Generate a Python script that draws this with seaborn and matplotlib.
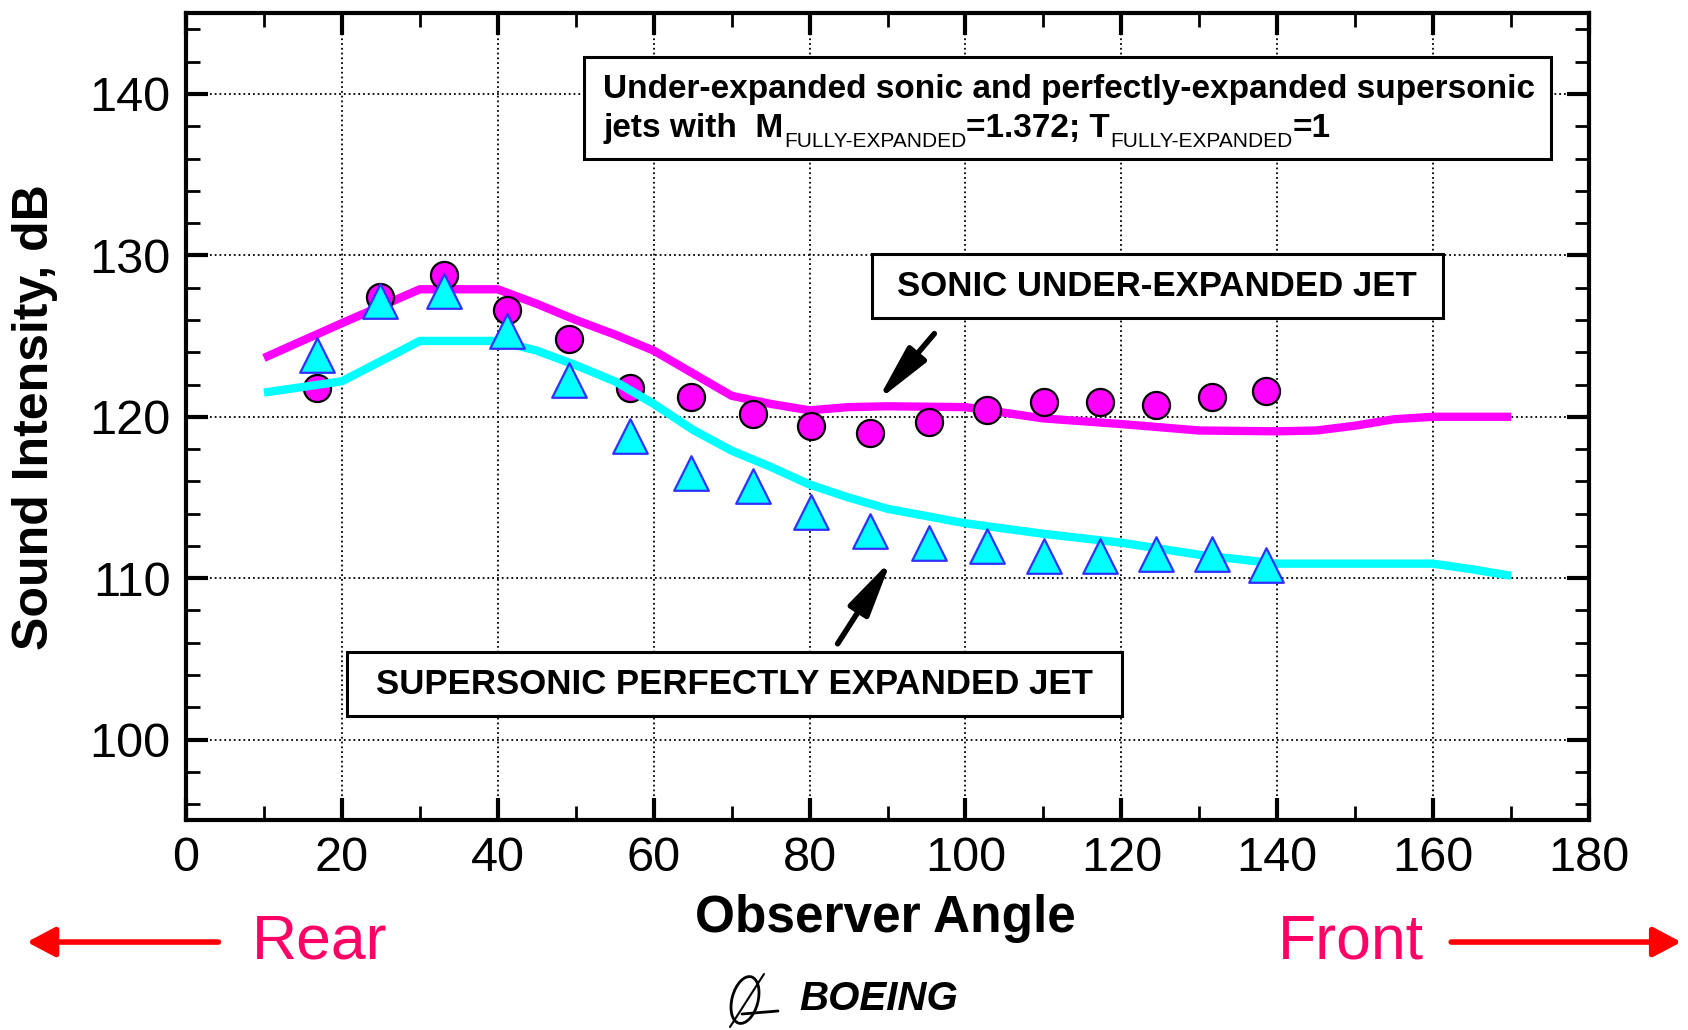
import matplotlib
matplotlib.use("Agg")
import matplotlib.pyplot as plt
import seaborn as sns
from matplotlib.patches import Rectangle, FancyArrowPatch, Ellipse
from matplotlib.lines import Line2D

angles = [16.8, 24.9, 33.1, 41.2, 49.1, 56.9, 64.8, 72.7, 80.2, 87.8,
          95.3, 102.8, 110.1, 117.3, 124.4, 131.6, 138.6]
sonic_db = [121.8, 127.4, 128.8, 126.6, 124.8, 121.8, 121.2, 120.2, 119.4, 119.0,
            119.7, 120.4, 120.9, 120.9, 120.7, 121.2, 121.6]
supersonic_db = [123.8, 127.2, 127.8, 125.3, 122.3, 118.8, 116.5, 115.7, 114.1, 112.9,
                 112.2, 112.0, 111.4, 111.4, 111.5, 111.5, 110.8]

# prediction curves
sonic_curve_angle = [10, 20, 30, 40, 45, 50, 55, 60, 65, 70, 75, 80, 85, 90,
                     100, 110, 120, 130, 140, 145, 150, 155, 160, 170]
sonic_curve_db = [123.65, 125.8, 127.9, 127.9, 127.0, 126.0, 125.1, 124.1, 122.7, 121.3,
                  120.8, 120.4, 120.6, 120.65, 120.6, 119.9, 119.55, 119.15, 119.1,
                  119.15, 119.45, 119.85, 120.0, 120.0]
super_curve_angle = [10, 20, 30, 40, 45, 50, 55, 60, 65, 70, 75, 80, 85, 90,
                     100, 110, 120, 130, 140, 150, 160, 165, 170]
super_curve_db = [121.5, 122.2, 124.7, 124.7, 124.1, 123.2, 122.2, 120.8, 119.2, 117.9,
                  116.9, 115.8, 115.0, 114.3, 113.4, 112.75, 112.2, 111.45, 110.9,
                  110.9, 110.9, 110.55, 110.15]

x_ticks = [0, 20, 40, 60, 80, 100, 120, 140, 160, 180]
y_ticks = [100, 110, 120, 130, 140]

sns.set_style("ticks")
plt.rcParams['font.family'] = ['Liberation Sans', 'DejaVu Sans']
plt.rcParams['text.color'] = 'black'

fig = plt.figure(figsize=(16.88, 10.30), dpi=100)
ax = fig.add_axes([0.1102, 0.2036, 0.8312, 0.7835])

# curves and symbols
sns.lineplot(x=sonic_curve_angle, y=sonic_curve_db, color='#FF00FF', lw=6, ax=ax,
             zorder=2, solid_capstyle='butt')
sns.scatterplot(x=angles, y=sonic_db, marker='o', s=380, color='#FF00FF',
                edgecolor='black', linewidth=1.6, ax=ax, zorder=3)
sns.lineplot(x=super_curve_angle, y=super_curve_db, color='#00FFFF', lw=6, ax=ax,
             zorder=4, solid_capstyle='butt')
sns.scatterplot(x=angles, y=supersonic_db, marker='^', s=620, color='#00FFFF',
                edgecolor='#3030FF', linewidth=1.6, ax=ax, zorder=5)

ax.set_xlim(0, 180)
ax.set_ylim(95, 145)
ax.set_xticks(x_ticks)
ax.set_xticks(range(10, 180, 20), minor=True)
ax.set_yticks(y_ticks)
ax.set_yticks([v for v in range(96, 145, 2) if v % 10], minor=True)
ax.grid(True, which='major', color='black', linestyle=':', lw=1.3)
ax.set_axisbelow(True)
for s in ax.spines.values():
    s.set_linewidth(3)
    s.set_color('black')
ax.tick_params(which='both', direction='in', top=True, right=True, colors='black')
ax.tick_params(which='major', length=16, width=3, labelsize=35)
ax.tick_params(which='minor', length=10, width=2)
ax.tick_params(axis='x', which='major', pad=11)
ax.tick_params(axis='y', which='major', pad=11)

# info box
ax.add_patch(Rectangle((51.1, 136.0), 124.0, 6.3, facecolor='white', edgecolor='black',
                       lw=2.2, zorder=6))
ax.text(53.5, 139.73, 'Under-expanded sonic and perfectly-expanded supersonic',
        fontsize=24, fontweight='bold', va='baseline', zorder=7)
t1 = ax.text(53.5, 137.34, 'jets with  M', fontsize=24, fontweight='bold',
             va='baseline', zorder=7)
sub1 = ax.annotate('FULLY-EXPANDED', xy=(1, 0), xycoords=t1, xytext=(0.5, -5),
                   textcoords='offset points', fontsize=15, va='bottom', ha='left', zorder=7)
t2 = ax.annotate('=1.372; T', xy=(1, 0), xycoords=(sub1, t1), fontsize=24,
                 fontweight='bold', va='bottom', ha='left', zorder=7)
sub2 = ax.annotate('FULLY-EXPANDED', xy=(1, 0), xycoords=t2, xytext=(0.5, -5),
                   textcoords='offset points', fontsize=15, va='bottom', ha='left', zorder=7)
ax.annotate('=1', xy=(1, 0), xycoords=(sub2, t1), fontsize=24, fontweight='bold',
            va='bottom', ha='left', zorder=7)

# curve labels
ax.add_patch(Rectangle((88.0, 126.15), 73.2, 3.94, facecolor='white', edgecolor='black',
                       lw=2.2, zorder=6))
ax.text(124.6, 128.1, 'SONIC UNDER-EXPANDED JET', fontsize=25, fontweight='bold',
        ha='center', va='center', zorder=7)
ax.add_patch(Rectangle((20.6, 101.47), 99.5, 3.93, facecolor='white', edgecolor='black',
                       lw=2.2, zorder=6))
ax.text(70.35, 103.4, 'SUPERSONIC PERFECTLY EXPANDED JET', fontsize=25, fontweight='bold',
        ha='center', va='center', zorder=7)

arrow_style = '-|>,head_length=1.7,head_width=0.35'
ax.annotate('', xy=(88.7, 121.0), xytext=(96.0, 125.15),
            arrowprops=dict(arrowstyle=arrow_style, lw=4, color='black',
                            mutation_scale=20, shrinkA=0, shrinkB=0), zorder=7)
ax.annotate('', xy=(90.5, 111.14), xytext=(83.6, 105.94),
            arrowprops=dict(arrowstyle=arrow_style, lw=4, color='black',
                            mutation_scale=20, shrinkA=0, shrinkB=0), zorder=7)

# axis titles
fig.text(0.021, 0.595, 'Sound Intensity, dB', rotation=90, ha='center', va='center',
         fontsize=36, fontweight='bold')
fig.text(0.5245, 0.0951, 'Observer Angle', ha='center', va='baseline',
         fontsize=37, fontweight='bold')

# rear / front
fig.text(0.1896, 0.0699, 'Rear', ha='center', va='baseline', fontsize=45, color='#FF0066')
fig.text(0.8001, 0.0699, 'Front', ha='center', va='baseline', fontsize=45, color='#FF0066')
red_style = '-|>,head_length=17,head_width=9'
fig.add_artist(FancyArrowPatch((0.1294, 0.0854), (0.016, 0.0854), transform=fig.transFigure,
                               arrowstyle=red_style, mutation_scale=1, lw=4, color='#FF0000',
                               shrinkA=0, shrinkB=0))
fig.add_artist(FancyArrowPatch((0.8597, 0.0854), (0.996, 0.0854), transform=fig.transFigure,
                               arrowstyle=red_style, mutation_scale=1, lw=4, color='#FF0000',
                               shrinkA=0, shrinkB=0))

# logo
fig.text(0.5207, 0.0196, 'BOEING', ha='center', va='baseline', fontsize=29,
         fontweight='bold', fontstyle='italic')
fig.add_artist(Ellipse((7.45, 0.30), 0.26, 0.48, angle=-15, transform=fig.dpi_scale_trans,
                       fill=False, edgecolor='black', lw=2))
fig.add_artist(Line2D([7.64, 7.30], [0.56, 0.03], transform=fig.dpi_scale_trans,
                      color='black', lw=1.5))
fig.add_artist(Line2D([7.42, 7.78], [0.16, 0.19], transform=fig.dpi_scale_trans,
                      color='black', lw=2))

fig.savefig('out.png', dpi=100)
